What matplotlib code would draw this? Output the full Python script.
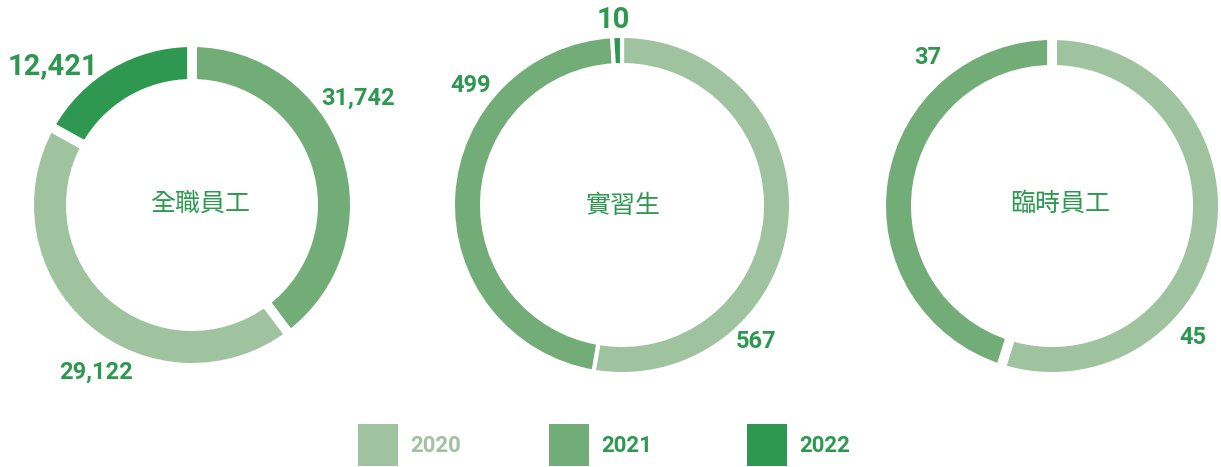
import matplotlib.pyplot as plt
from matplotlib.patches import Rectangle

plt.rcParams['font.family'] = ['Roboto', 'DejaVu Sans']

# 數據
years = ['2020', '2021', '2022']
colors = {'2020': '#9FC39F', '2021': '#72AD78', '2022': '#2E9850'}
text_green = '#2E9850'

titles = ['全職員工', '實習生', '臨時員工']
# 每個圓環從頂部順時針的順序 (弧長按圖中所見)
ring_years = [['2021', '2020', '2022'],
              ['2020', '2021', '2022'],
              ['2020', '2021']]
ring_values = [[29122, 31742, 12421],
               [567, 499, 10],
               [45, 37]]
# 圖中各弧旁的數字標籤
ring_labels = [['31,742', '29,122', '12,421'],
               ['567', '499', '10'],
               ['45', '37']]

W, H = 1221, 467
fig = plt.figure(figsize=(W / 100, H / 100), dpi=100)
ax = fig.add_axes([0, 0, 1, 1])

# 版面 (像素, y 向下)
centers = [(192, 205), (622, 205), (1052, 206)]
radii = [158, 167, 166]
widths = [32, 25, 25]
gaps = [7.0, 3.0, 7.0]   # 白色間隙 (pt)
title_pos = [(200, 204), (623, 206), (1060, 204)]
label_pos = [[(358, 98), (96, 372), (53, 66)],
             [(756, 342), (471, 86), (613, 20)],
             [(1193, 338), (928, 58)]]

for i in range(3):
    cx, cy = centers[i]
    cols = [colors[y] for y in ring_years[i]]
    g = gaps[i] * 100 / 72  # 描邊寬度 (像素)
    ax.pie(ring_values[i], colors=cols, startangle=90, counterclock=False,
           center=(cx, H - cy), radius=radii[i] + g / 2,
           wedgeprops=dict(width=widths[i] + g, edgecolor='white', linewidth=gaps[i]))
    ax.text(title_pos[i][0], H - title_pos[i][1], titles[i], ha='center', va='center',
            fontsize=18, fontweight='medium', color=text_green,
            family=['Noto Sans CJK TC', 'DejaVu Sans'])
    for lab, y, (lx, ly) in zip(ring_labels[i], ring_years[i], label_pos[i]):
        size = 21 if y == '2022' else 17
        ax.text(lx, H - ly, lab, ha='center', va='center', fontsize=size,
                fontweight='bold', color=text_green)

# 圖例
leg_x = [358, 549, 747]
for x, y in zip(leg_x, years):
    ax.add_patch(Rectangle((x, H - 466), 40, 42, color=colors[y], lw=0))
    tc = colors['2020'] if y == '2020' else text_green
    ax.text(x + 52, H - 446, y, ha='left', va='center', fontsize=16,
            fontweight='bold', color=tc)

ax.set_xlim(0, W)
ax.set_ylim(0, H)
ax.set_aspect('auto')
ax.axis('off')

fig.savefig('out.png', dpi=100)
